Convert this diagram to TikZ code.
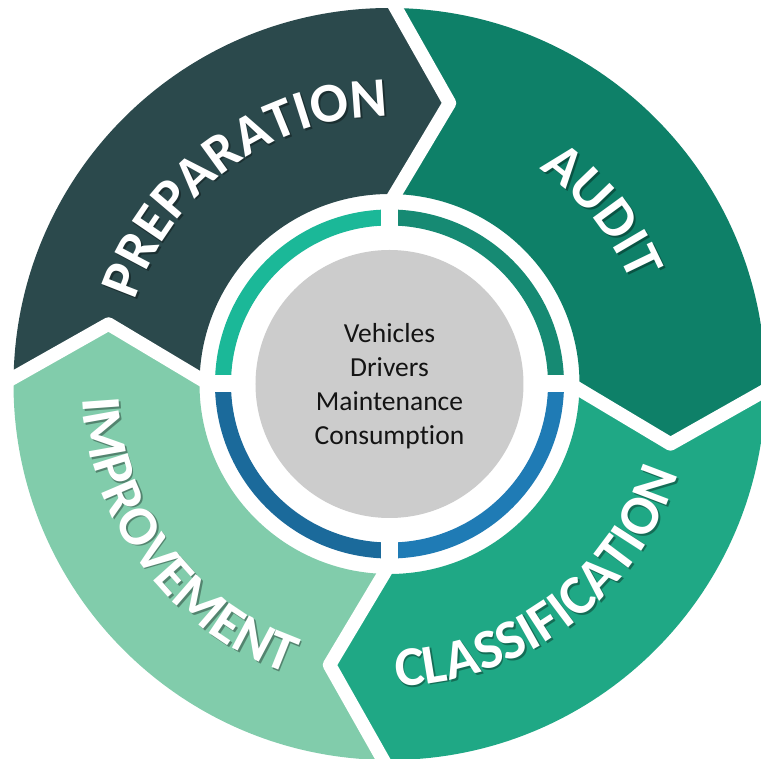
\documentclass[tikz,border=0pt]{standalone}
\usepackage{fontspec}
\setmainfont{Carlito}[Ligatures=NoCommon]
\usetikzlibrary{decorations.text}
\definecolor{cPrep}{RGB}{43,73,76}
\definecolor{cAudit}{RGB}{14,128,104}
\definecolor{cClass}{RGB}{31,168,133}
\definecolor{cImpr}{RGB}{129,204,171}
\definecolor{cRingTL}{RGB}{27,184,152}
\definecolor{cRingTR}{RGB}{22,138,115}
\definecolor{cRingBR}{RGB}{31,123,181}
\definecolor{cRingBL}{RGB}{27,106,155}
\definecolor{cGrey}{RGB}{204,204,204}
\newcommand\labw{\fontsize{56}{56}\selectfont\bfseries\color{white}}
\newcommand\labs{\fontsize{56}{56}\selectfont\bfseries\color{black}}
\tikzset{
  gapline/.style={draw=white, line width=13.5pt, line join=round},
  ringgap/.style={draw=white, line width=17pt},
  lab/.style={decorate, decoration={text along path, text align=center, text={#1}}},
}
\begin{document}
\begin{tikzpicture}[x=1pt,y=1pt]
\path[use as bounding box] (-389.5,-375) rectangle (371.5,384);
\fill[white] (-389.5,-375) rectangle (371.5,384);
\begin{scope}
\clip (-389.5,-375) rectangle (371.5,384);
% outer segments
\fill[cPrep] (89.16:376) arc[start angle=89.16, end angle=179.16, radius=376] -- (167.95:287.3) -- (178.34:190) arc[start angle=178.34, end angle=88.34, radius=190] -- (77.95:287.3) -- cycle;
\fill[cAudit] (-0.84:376) arc[start angle=-0.84, end angle=89.16, radius=376] -- (77.95:287.3) -- (88.34:190) arc[start angle=88.34, end angle=-1.66, radius=190] -- (-12.05:287.3) -- cycle;
\fill[cClass] (-90.84:376) arc[start angle=-90.84, end angle=-0.84, radius=376] -- (-12.05:287.3) -- (-1.66:190) arc[start angle=-1.66, end angle=-91.66, radius=190] -- (-102.05:287.3) -- cycle;
\fill[cImpr] (179.16:376) arc[start angle=179.16, end angle=269.16, radius=376] -- (257.95:287.3) -- (268.34:190) arc[start angle=268.34, end angle=178.34, radius=190] -- (167.95:287.3) -- cycle;
% white chevron gaps
\coordinate (tT) at (77.95:287.3);
\coordinate (tR) at (-12.05:287.3);
\coordinate (tB) at (-102.05:287.3);
\coordinate (tL) at (167.95:287.3);
\path[gapline] (90.4:392) -- (tT) -- (90.9:176);
\path[gapline] (0.4:392) -- (tR) -- (0.9:176);
\path[gapline] (-89.6:392) -- (tB) -- (-89.1:176);
\path[gapline] (180.4:392) -- (tL) -- (180.9:176);
% inner ring
\fill[cRingTL] (90:174.5) arc[start angle=90, end angle=180, radius=174.5] -- (180:158.5) arc[start angle=180, end angle=90, radius=158.5] -- cycle;
\fill[cRingTR] (0:174.5) arc[start angle=0, end angle=90, radius=174.5] -- (90:158.5) arc[start angle=90, end angle=0, radius=158.5] -- cycle;
\fill[cRingBR] (-90:174.5) arc[start angle=-90, end angle=0, radius=174.5] -- (0:158.5) arc[start angle=0, end angle=-90, radius=158.5] -- cycle;
\fill[cRingBL] (180:174.5) arc[start angle=180, end angle=270, radius=174.5] -- (270:158.5) arc[start angle=270, end angle=180, radius=158.5] -- cycle;
\path[ringgap] (-182,0) -- (182,0);
\path[ringgap] (0,-182) -- (0,182);
% centre disc
\fill[cGrey] (0,0) circle[radius=134];
\node[align=center, font=\fontsize{27.5}{34}\selectfont, text=black!92] (ctr) at (0,-2) {Vehicles\\Drivers\\Maintenance\\Consumption};
% label shadows
\begin{scope}[shift={(1.8,-1.8)}, opacity=0.35]
\path[lab={|\labs|PREPARATION}] (186:268) arc[start angle=186, end angle=66, radius=268];
\path[lab={|\labs|AUDIT}] (99:262) arc[start angle=99, end angle=-21, radius=262];
\path[lab={|\labs|CLASSIFICATION}] (-113:302) arc[start angle=-113, end angle=7, radius=302];
\path[lab={|\labs|IMPROVEMENT}] (156.7:307) arc[start angle=156.7, end angle=276.7, radius=307];
\end{scope}
% labels
\path[lab={|\labw|PREPARATION}] (186:268) arc[start angle=186, end angle=66, radius=268];
\path[lab={|\labw|AUDIT}] (99:262) arc[start angle=99, end angle=-21, radius=262];
\path[lab={|\labw|CLASSIFICATION}] (-113:302) arc[start angle=-113, end angle=7, radius=302];
\path[lab={|\labw|IMPROVEMENT}] (156.7:307) arc[start angle=156.7, end angle=276.7, radius=307];
\end{scope}
\end{tikzpicture}
\end{document}
